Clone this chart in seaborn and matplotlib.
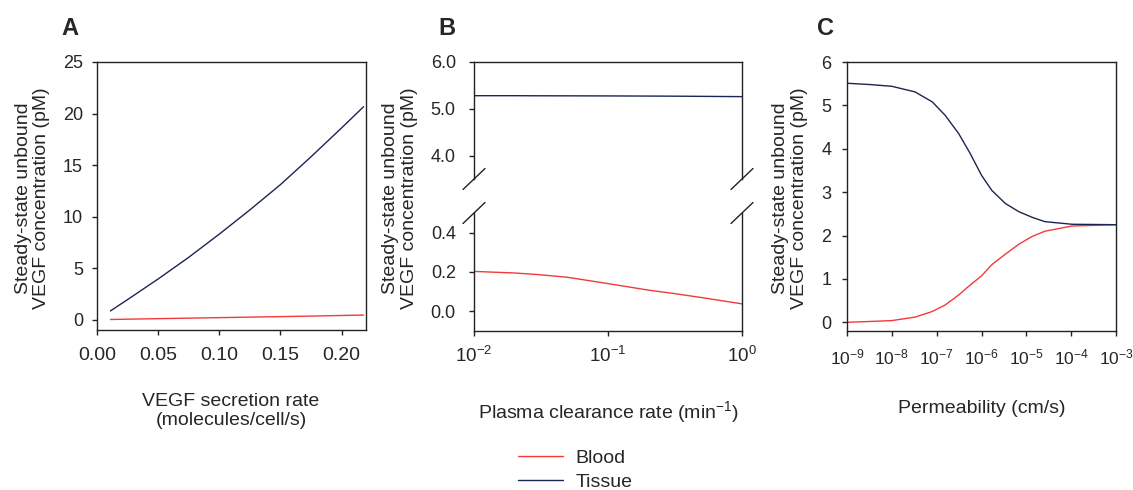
import numpy as np
import pandas as pd
import matplotlib
matplotlib.use("Agg")
import matplotlib.pyplot as plt
from matplotlib.ticker import NullLocator, LogLocator
import seaborn as sns

# Panel A: VEGF secretion rate
secretion = [0.011, 0.025, 0.05, 0.075, 0.10, 0.125, 0.15, 0.175, 0.20, 0.218]
a_tissue = [0.85, 1.95, 3.95, 6.05, 8.3, 10.65, 13.1, 15.8, 18.6, 20.66]
a_blood = [0.02, 0.05, 0.10, 0.15, 0.20, 0.25, 0.30, 0.35, 0.41, 0.45]

# Panel B: plasma clearance rate
clearance = [0.01, 0.02, 0.03, 0.05, 0.1, 0.2, 0.3, 0.5, 1.0]
b_tissue = [5.28, 5.28, 5.278, 5.277, 5.275, 5.272, 5.27, 5.266, 5.26]
b_blood = [0.203, 0.195, 0.187, 0.173, 0.141, 0.108, 0.092, 0.070, 0.038]

# Panel C: permeability
permeability = [1e-9, 3.3e-9, 1e-8, 3.3e-8, 8e-8, 1.55e-7, 3.1e-7, 5.6e-7, 1e-6,
                1.7e-6, 3.4e-6, 6.8e-6, 1.35e-5, 2.6e-5, 1.05e-4, 1e-3]
c_tissue = [5.51, 5.48, 5.44, 5.31, 5.08, 4.77, 4.35, 3.89, 3.39,
            3.04, 2.74, 2.55, 2.42, 2.32, 2.26, 2.25]
c_blood = [0.0, 0.02, 0.04, 0.12, 0.25, 0.40, 0.63, 0.86, 1.07,
           1.33, 1.57, 1.80, 1.98, 2.10, 2.22, 2.25]

BLOOD = "#f23a3a"
TISSUE = "#1c2552"
LW = 1.0

sns.set_style("ticks")
plt.rcParams['font.family'] = ['Liberation Sans', 'DejaVu Sans']
plt.rcParams['mathtext.fontset'] = 'custom'
plt.rcParams['mathtext.rm'] = 'Liberation Sans'
plt.rcParams['axes.unicode_minus'] = False
plt.rcParams['axes.edgecolor'] = '#222222'
plt.rcParams['axes.linewidth'] = 1.0

fig = plt.figure(figsize=(11.33, 4.9), dpi=100)
W, H = 1133, 490

def box(l, t, r, b):
    return [l / W, 1 - b / H, (r - l) / W, (b - t) / H]

def style(ax, ypad=6.5, xsize=14, xpad=8):
    for s in ax.spines.values():
        s.set_visible(True)
        s.set_linewidth(1.0)
    ax.tick_params(axis='both', which='major', direction='out', length=3.6,
                   width=1.0, color='#222222', top=False, right=False)
    ax.tick_params(axis='y', pad=ypad, labelsize=13)
    ax.tick_params(axis='x', pad=xpad, labelsize=xsize)
    ax.set_xlabel('')
    ax.set_ylabel('')

# ---------- A ----------
axA = fig.add_axes(box(97, 62, 366, 330))
sns.lineplot(x=secretion, y=a_blood, color=BLOOD, lw=LW, ax=axA, label='Blood')
sns.lineplot(x=secretion, y=a_tissue, color=TISSUE, lw=LW, ax=axA, label='Tissue')
axA.set_xlim(0, 0.22)
axA.set_ylim(-1, 25)
axA.set_xticks([0.0, 0.05, 0.10, 0.15, 0.20])
axA.set_xticklabels(['0.00', '0.05', '0.10', '0.15', '0.20'])
axA.set_yticks([0, 5, 10, 15, 20, 25])
style(axA, ypad=6.5, xsize=14, xpad=9)
handles, labels = axA.get_legend_handles_labels()
axA.get_legend().remove()

# ---------- B (broken axis) ----------
axBt = fig.add_axes(box(474, 62, 742, 179))
axBb = fig.add_axes(box(474, 213, 742, 331))
for ax in (axBt, axBb):
    sns.lineplot(x=clearance, y=b_blood, color=BLOOD, lw=LW, ax=ax, legend=False)
    sns.lineplot(x=clearance, y=b_tissue, color=TISSUE, lw=LW, ax=ax, legend=False)
    ax.set_xscale('log')
    ax.set_xlim(0.01, 1.0)
    ax.xaxis.set_major_locator(LogLocator(base=10, numticks=10))
    ax.xaxis.set_minor_locator(NullLocator())
    style(ax, ypad=9.5, xsize=13.5, xpad=7)
axBt.set_ylim(3.5, 6.0)
axBt.set_yticks([4.0, 5.0, 6.0])
axBt.set_yticklabels(['4.0', '5.0', '6.0'])
axBt.spines['bottom'].set_visible(False)
axBt.tick_params(axis='x', bottom=False, labelbottom=False)
axBb.set_ylim(-0.1, 0.5)
axBb.set_yticks([0.0, 0.2, 0.4])
axBb.set_yticklabels(['0.0', '0.2', '0.4'])
axBb.spines['top'].set_visible(False)

# break marks
for ax, yv, dy in ((axBt, 0, 10.5 / 117), (axBb, 1, 10.5 / 118)):
    dx = 11 / 268
    for xv in (0, 1):
        ax.plot([xv - dx, xv + dx], [yv - dy, yv + dy], transform=ax.transAxes,
                color='#222222', lw=1.0, clip_on=False)

# ---------- C ----------
axC = fig.add_axes(box(847, 62, 1116, 331))
sns.lineplot(x=permeability, y=c_blood, color=BLOOD, lw=LW, ax=axC, legend=False)
sns.lineplot(x=permeability, y=c_tissue, color=TISSUE, lw=LW, ax=axC, legend=False)
axC.set_xscale('log')
axC.set_xlim(1e-9, 1e-3)
axC.set_ylim(-0.2, 6)
axC.xaxis.set_major_locator(LogLocator(base=10, numticks=12))
axC.xaxis.set_minor_locator(NullLocator())
axC.set_yticks([0, 1, 2, 3, 4, 5, 6])
style(axC, ypad=7.5, xsize=12.5, xpad=8)

# ---------- labels ----------
ylab = 'Steady-state unbound\nVEGF concentration (pM)'
for xc in (32.5, 400, 790):
    fig.text(xc / W, 1 - 198 / H, ylab, rotation=90, ha='center', va='center',
             fontsize=14, linespacing=1.1)

fig.text(231 / W, 1 - 411 / H, 'VEGF secretion rate\n(molecules/cell/s)',
         ha='center', va='center', fontsize=14, linespacing=1.1)
fig.text(608 / W, 1 - 413 / H, 'Plasma clearance rate (min$^{\\mathdefault{-1}}$)',
         ha='center', va='center', fontsize=14)
fig.text(982 / W, 1 - 408 / H, 'Permeability (cm/s)',
         ha='center', va='center', fontsize=14)

for xc, letter in ((61, 'A'), (438, 'B'), (817, 'C')):
    fig.text(xc / W, 1 - 35 / H, letter, ha='left', va='baseline',
             fontsize=17, fontweight='bold')

fig.legend(handles, labels, loc='center', bbox_to_anchor=(575 / W, 1 - 470 / H),
           frameon=False, fontsize=14, handlelength=2.3, handletextpad=0.65,
           labelspacing=0.3, borderpad=0)

fig.savefig('out.png', dpi=100)
